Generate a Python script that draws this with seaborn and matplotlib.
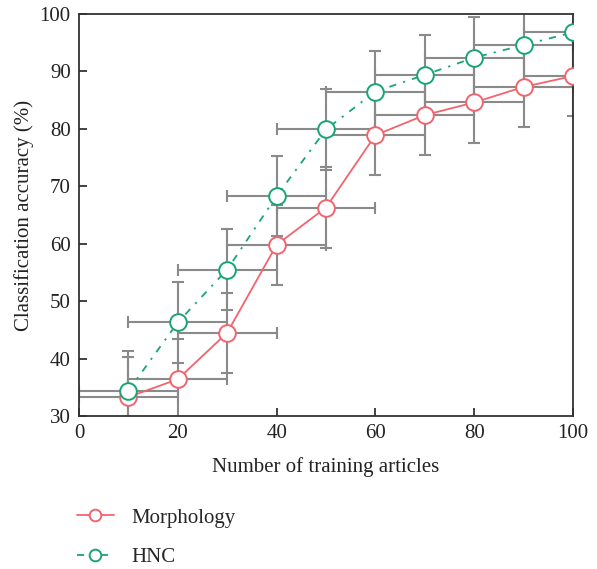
import seaborn as sns
import pandas as pd
import matplotlib.pyplot as plt

# data
articles = [10, 20, 30, 40, 50, 60, 70, 80, 90, 100]
morphology = [33.3, 36.4, 44.5, 59.8, 66.3, 78.9, 82.4, 84.6, 87.3, 89.2]
hnc = [34.4, 46.3, 55.5, 68.3, 79.9, 86.5, 89.4, 92.4, 94.6, 96.8]
x_err = [10] * 10
morph_err = [7.0] * 10
hnc_err = [7.0] * 10

df = pd.DataFrame({'articles': articles, 'Morphology': morphology, 'HNC': hnc})

sns.set_theme(style='ticks')
plt.rcParams['font.family'] = ['Liberation Serif', 'DejaVu Serif']

red = '#f2646d'
green = '#17a673'
grey = '#8a8a8a'

fig = plt.figure(figsize=(5.97, 5.69), dpi=100)
ax = fig.add_axes([0.1323, 0.2689, 0.8275, 0.7065])

# error bars (x and y) behind the lines
for ys, yerr in [(morphology, morph_err), (hnc, hnc_err)]:
    ax.errorbar(articles, ys, xerr=x_err, yerr=yerr, fmt='none',
                ecolor=grey, elinewidth=1.5, capsize=4.5, capthick=1.5, zorder=1)

sns.lineplot(df, x='articles', y='Morphology', ax=ax, color=red, lw=1.3,
             marker='o', markersize=12, markerfacecolor='white',
             markeredgecolor=red, markeredgewidth=1.4, label='Morphology', zorder=3)
sns.lineplot(df, x='articles', y='HNC', ax=ax, color=green, lw=1.3,
             marker='o', markersize=12, markerfacecolor='white',
             markeredgecolor=green, markeredgewidth=1.4, label='HNC', zorder=3)
ax.lines[-1].set_dashes((4, 4, 1.2, 4))

ax.set_xlim(0, 100)
ax.set_ylim(30, 100)
ax.set_xticks(range(0, 101, 20))
ax.set_yticks(range(30, 101, 10))
ax.tick_params(direction='in', length=6, width=1.2, labelsize=15, colors='#222222', pad=6)
for s in ax.spines.values():
    s.set_linewidth(1.3)
    s.set_color('#333333')

ax.set_xlabel('Number of training articles', fontsize=15, labelpad=10, color='#222222')
ax.set_ylabel('Classification accuracy (%)', fontsize=15, labelpad=4, color='#222222')

ax.get_legend().remove()
handles, labels = ax.get_legend_handles_labels()
fig.legend(handles, labels, loc='upper left', bbox_to_anchor=(0.098, 0.14),
           frameon=False, fontsize=15, handlelength=1.75, labelspacing=0.95,
           handletextpad=0.85, markerscale=0.7)

fig.savefig('out.png', dpi=100)
